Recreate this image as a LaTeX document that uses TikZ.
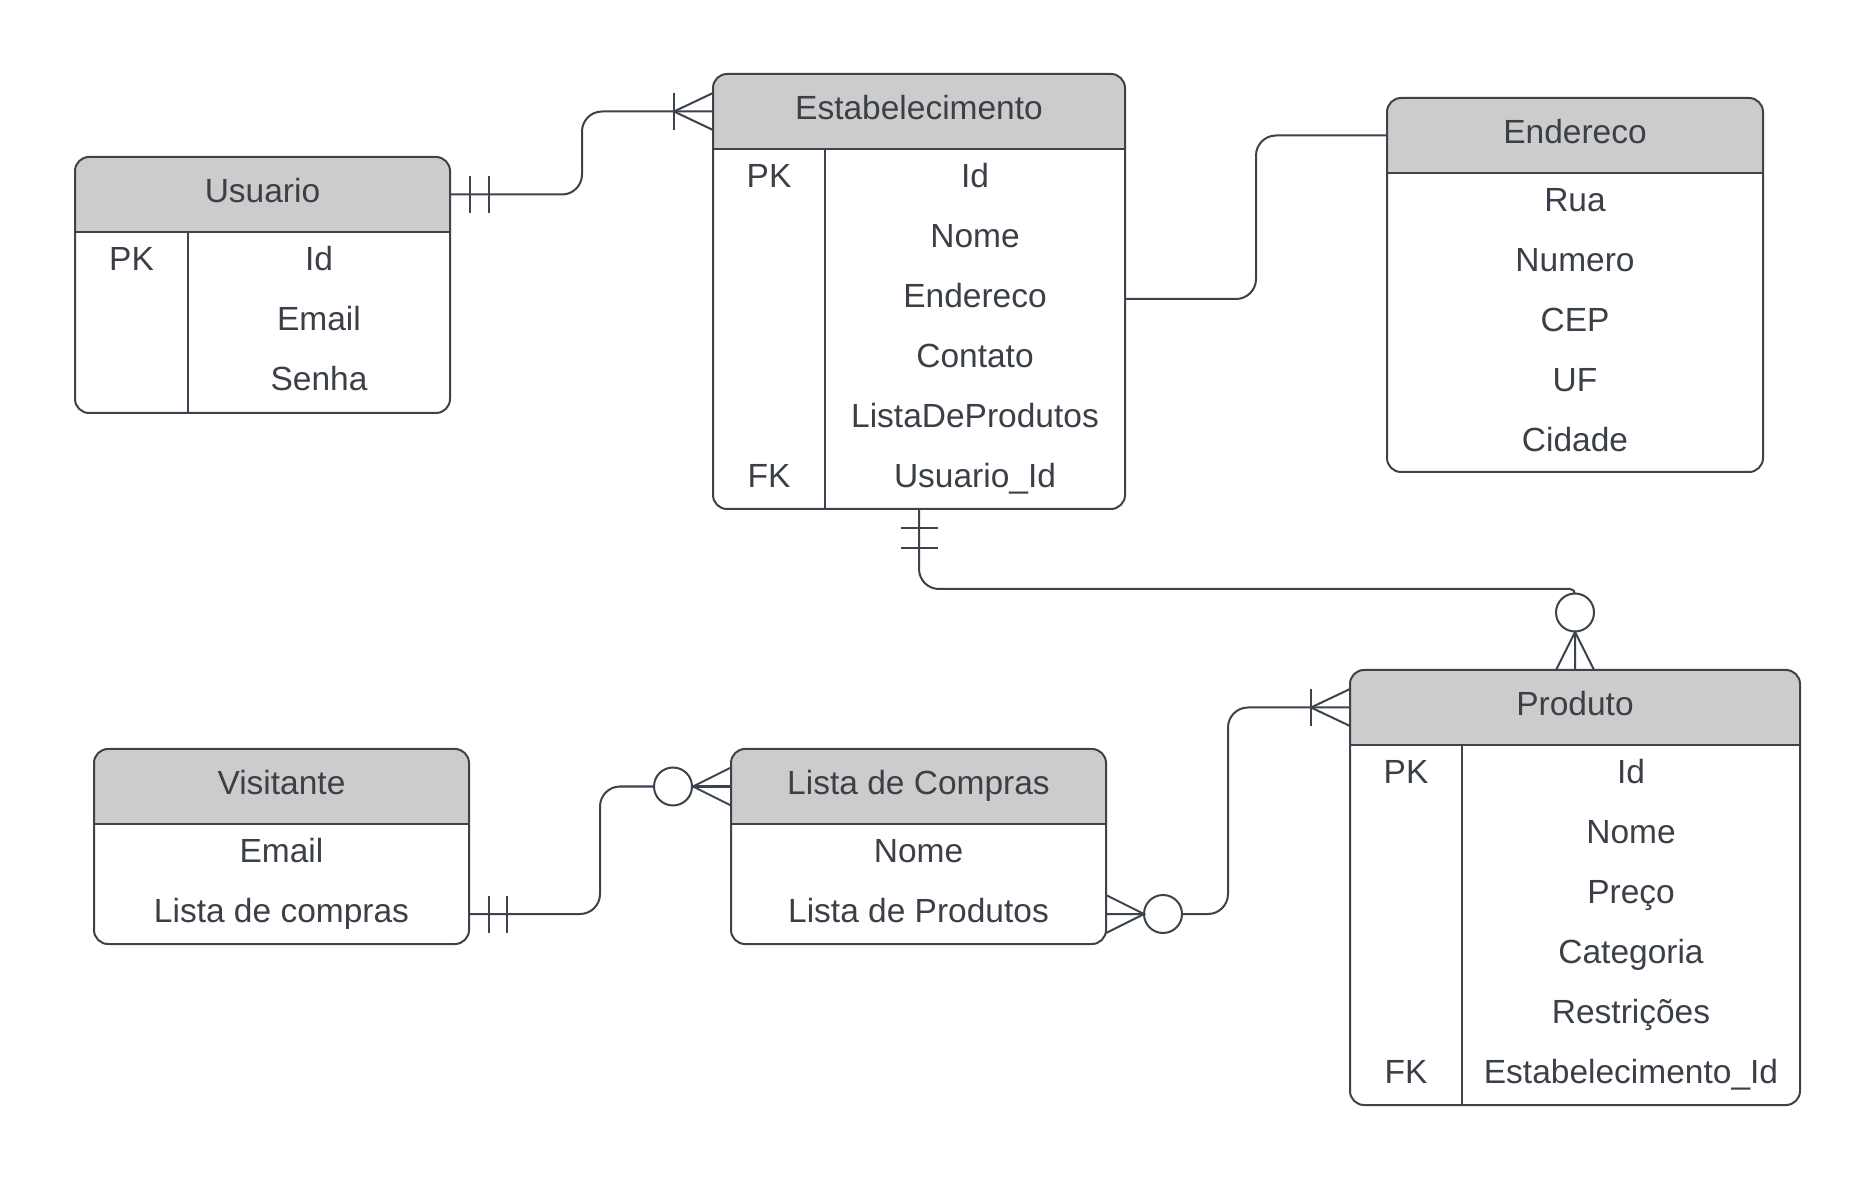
\documentclass[tikz,border=0pt]{standalone}
\usepackage{fontspec}
\setmainfont{Liberation Sans}
\usetikzlibrary{calc}
\definecolor{lc}{HTML}{3D434C}
\definecolor{tc}{HTML}{3B4048}
\definecolor{hdrc}{HTML}{CCCCCC}
\tikzset{
  ln/.style={draw=lc, line width=1pt},
  conn/.style={draw=lc, line width=1pt, rounded corners=10pt},
  tblbase/.style={anchor=north west, inner sep=0pt, outer sep=0pt, draw=none},
  txt/.style={anchor=base, inner sep=0pt, yshift=-0.6pt, text=tc, font=\fontsize{16.75pt}{20pt}\selectfont},
}
\newcommand\erbox[5]{%
  \node[tblbase, minimum width=#4*0.5pt, minimum height=#5*0.5pt] (#1) at (#2,#3) {};
  \begin{scope}
    \clip[rounded corners=7pt] (#1.north west) rectangle (#1.south east);
    \fill[hdrc] (#1.north west) rectangle ($(#1.north east)+(0,75)$);
  \end{scope}
  \draw[ln] ($(#1.north west)+(0,75)$) -- ($(#1.north east)+(0,75)$);
  \draw[ln, rounded corners=7pt] (#1.north west) rectangle (#1.south east);
}
\begin{document}
\begin{tikzpicture}[x=0.5pt, y=-0.5pt]
\useasboundingbox[fill=white] (0,0) rectangle (1875,1181);

% ---------- tables ----------
\erbox{usuario}{75}{157}{375}{256}
\draw[ln] ($(usuario.north west)+(113,75)$) -- ($(usuario.south west)+(113,0)$);
\node[txt] (usuarioH) at (262.5,201.5) {Usuario};
\node[txt] (usuarioPK) at (131.5,269) {PK};
\node[txt] (usuarioId) at (319,269) {Id};
\node[txt] (usuarioEmail) at (319,329) {Email};
\node[txt] (usuarioSenha) at (319,389) {Senha};

\erbox{estab}{713}{74}{412}{435}
\draw[ln] ($(estab.north west)+(112,75)$) -- ($(estab.south west)+(112,0)$);
\node[txt] (estabH) at (919,118.5) {Estabelecimento};
\node[txt] (estabPK) at (769,186) {PK};
\node[txt] (estabId) at (975,186) {Id};
\node[txt] (estabNome) at (975,246) {Nome};
\node[txt] (estabEnd) at (975,306) {Endereco};
\node[txt] (estabCont) at (975,366) {Contato};
\node[txt] (estabLista) at (975,426) {ListaDeProdutos};
\node[txt] (estabFK) at (769,486) {FK};
\node[txt] (estabUsu) at (975,486) {Usuario\_Id};

\erbox{endereco}{1387}{98}{376}{374}
\node[txt] (enderecoH) at (1575,142.5) {Endereco};
\node[txt] (endRua) at (1575,210) {Rua};
\node[txt] (endNum) at (1575,270) {Numero};
\node[txt] (endCEP) at (1575,330) {CEP};
\node[txt] (endUF) at (1575,390) {UF};
\node[txt] (endCid) at (1575,450) {Cidade};

\erbox{visitante}{94}{749}{375}{195}
\node[txt] (visitanteH) at (281.5,793.5) {Visitante};
\node[txt] (visEmail) at (281.5,861) {Email};
\node[txt] (visLista) at (281.5,921) {Lista de compras};

\erbox{lista}{731}{749}{375}{195}
\node[txt] (listaH) at (918.5,793.5) {Lista de Compras};
\node[txt] (listaNome) at (918.5,861) {Nome};
\node[txt] (listaProd) at (918.5,921) {Lista de Produtos};

\erbox{produto}{1350}{670}{450}{435}
\draw[ln] ($(produto.north west)+(112,75)$) -- ($(produto.south west)+(112,0)$);
\node[txt] (produtoH) at (1575,714.5) {Produto};
\node[txt] (prodPK) at (1406,782) {PK};
\node[txt] (prodId) at (1631,782) {Id};
\node[txt] (prodNome) at (1631,842) {Nome};
\node[txt] (prodPreco) at (1631,902) {Preço};
\node[txt] (prodCat) at (1631,962) {Categoria};
\node[txt] (prodRes) at (1631,1022) {Restrições};
\node[txt] (prodFK) at (1406,1082) {FK};
\node[txt] (prodEst) at (1631,1082) {Estabelecimento\_Id};

% ---------- connector end points ----------
\coordinate (u1) at ($(usuario.north east)+(0,37.5)$);
\coordinate (e1) at ($(estab.north west)+(0,37.5)$);
\coordinate (e2) at ($(estab.north east)+(0,225)$);
\coordinate (d1) at ($(endereco.north west)+(0,37.5)$);
\coordinate (e3) at (estab.south);
\coordinate (p1) at (produto.north);
\coordinate (l1) at ($(lista.south east)+(0,-30)$);
\coordinate (p2) at ($(produto.north west)+(0,37.5)$);
\coordinate (v1) at ($(visitante.south east)+(0,-30)$);
\coordinate (l2) at ($(lista.north west)+(0,37.5)$);

% ---------- Usuario -- Estabelecimento ----------
\draw[conn] (u1) -- ++(132,0) |- (e1);
\draw[ln] ($(u1)+(20,-18.5)$) -- ++(0,37);
\draw[ln] ($(u1)+(39,-18.5)$) -- ++(0,37);
\draw[ln] ($(e1)+(-39,-18.5)$) -- ++(0,37);
\draw[ln] ($(e1)+(0,-18.5)$) -- ($(e1)+(-39,0)$) -- ($(e1)+(0,18.5)$);

% ---------- Estabelecimento -- Endereco ----------
\draw[conn] (e2) -- ++(131,0) |- (d1);

% ---------- Estabelecimento -- Produto ----------
\draw[conn] (e3) -- ++(0,80) [rounded corners=2.5pt] -| (p1);
\draw[ln] ($(e3)+(-18.5,19)$) -- ++(37,0);
\draw[ln] ($(e3)+(-18.5,39)$) -- ++(37,0);
\draw[ln, fill=white] ($(p1)+(0,-57.5)$) circle (9.5pt);
\draw[ln] ($(p1)+(-19,0)$) -- ($(p1)+(0,-38)$) -- ($(p1)+(19,0)$);
\draw[ln] ($(p1)+(0,-38)$) -- (p1);

% ---------- Lista de Compras -- Produto ----------
\draw[conn] (l1) -- ++(122,0) |- (p2);
\draw[ln, fill=white] ($(l1)+(57,0)$) circle (9.5pt);
\draw[ln] ($(l1)+(0,-19)$) -- ($(l1)+(38,0)$) -- ($(l1)+(0,19)$);
\draw[ln] (l1) -- ($(l1)+(38,0)$);
\draw[ln] ($(p2)+(-39,-18.5)$) -- ++(0,37);
\draw[ln] ($(p2)+(0,-18.5)$) -- ($(p2)+(-39,0)$) -- ($(p2)+(0,18.5)$);

% ---------- Visitante -- Lista de Compras ----------
\draw[conn] (v1) -- ++(131,0) |- (l2);
\draw[ln] ($(v1)+(20,-18.5)$) -- ++(0,37);
\draw[ln] ($(v1)+(38,-18.5)$) -- ++(0,37);
\draw[ln, fill=white] ($(l2)+(-58,0)$) circle (9.5pt);
\draw[ln] ($(l2)+(0,-19)$) -- ($(l2)+(-38,0)$) -- ($(l2)+(0,19)$);
\draw[ln] ($(l2)+(-38,0)$) -- (l2);
\end{tikzpicture}
\end{document}
